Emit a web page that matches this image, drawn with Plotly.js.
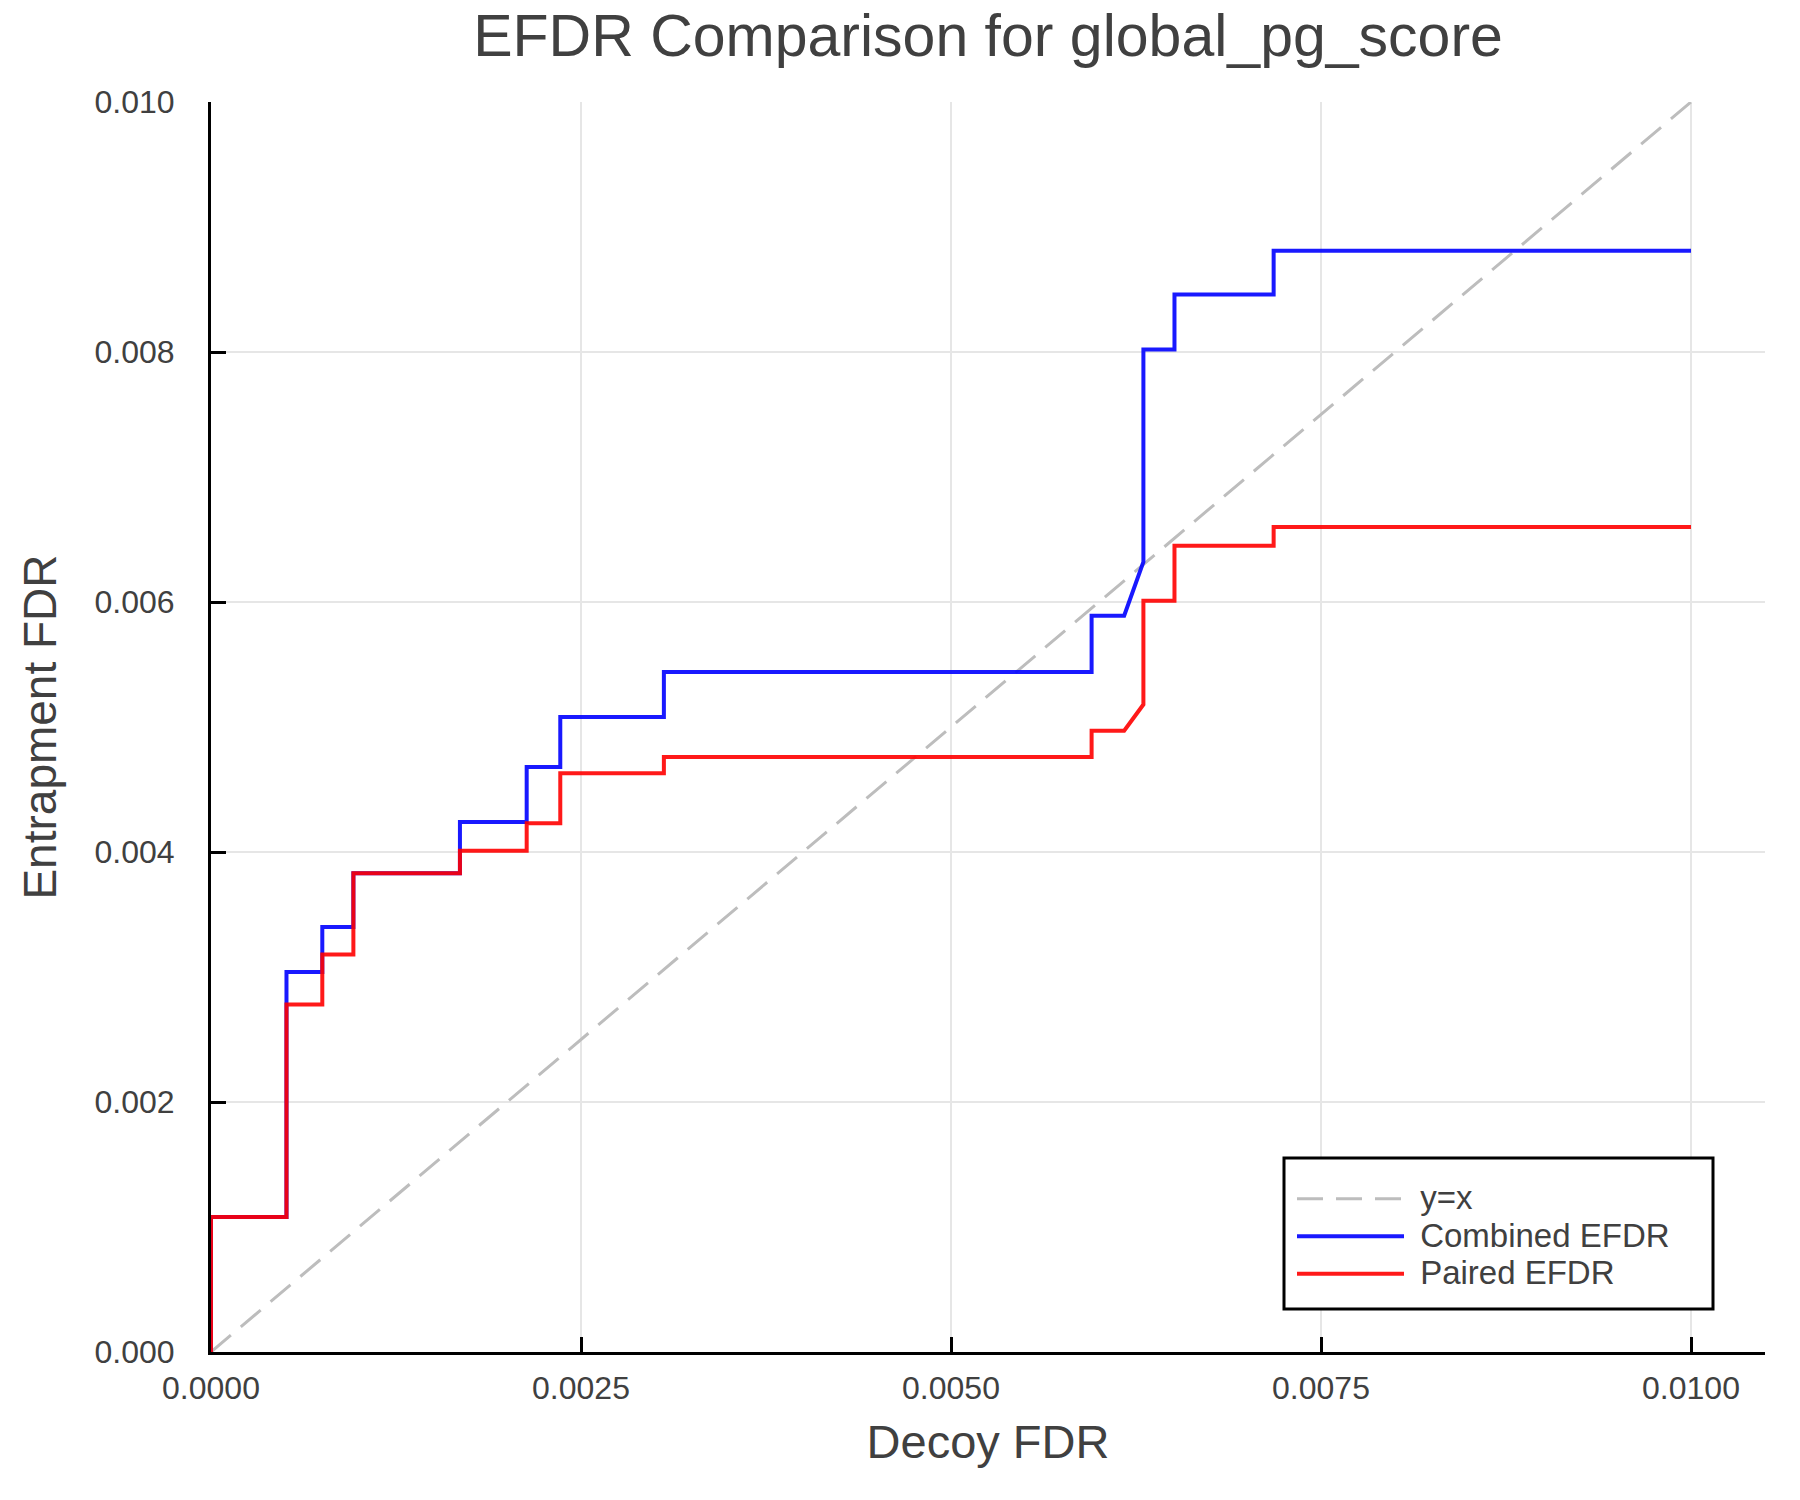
<!DOCTYPE html>
<html>
<head>
<meta charset="utf-8">
<script src="https://cdn.plot.ly/plotly-3.0.1.min.js"></script>
<style>
  html, body { margin: 0; padding: 0; background: #ffffff; }
  #chart { width: 1800px; height: 1500px; }
</style>
</head>
<body>
<div id="chart"></div>
<script>
// Decoy FDR (x) grid shared by both EFDR curves (step points)
const decoyFDR = [0, 0, 0.00051, 0.00051, 0.000752, 0.000752, 0.000962, 0.000962,
  0.001682, 0.001682, 0.002133, 0.002133, 0.00236, 0.00236, 0.00306, 0.00306,
  0.00595, 0.00595, 0.00617, 0.0063, 0.0063, 0.00651, 0.00651, 0.00718, 0.00718, 0.0100];

const combinedEFDR = [0, 0.00108, 0.00108, 0.00304, 0.00304, 0.0034, 0.0034, 0.00383,
  0.00383, 0.00424, 0.00424, 0.00468, 0.00468, 0.00508, 0.00508, 0.00544,
  0.00544, 0.00589, 0.00589, 0.00632, 0.00802, 0.00802, 0.00846, 0.00846, 0.00881, 0.00881];

const pairedEFDR = [0, 0.00108, 0.00108, 0.00278, 0.00278, 0.00318, 0.00318, 0.00383,
  0.00383, 0.00401, 0.00401, 0.00423, 0.00423, 0.00463, 0.00463, 0.00476,
  0.00476, 0.00497, 0.00497, 0.00518, 0.00601, 0.00601, 0.00645, 0.00645, 0.0066, 0.0066];

const diagX = [0, 0.01];
const diagY = [0, 0.01];

const xTickVals = [0, 0.0025, 0.005, 0.0075, 0.01];
const xTickText = ["0.0000", "0.0025", "0.0050", "0.0075", "0.0100"];
const yTickVals = [0, 0.002, 0.004, 0.006, 0.008, 0.01];
const yTickText = ["0.000", "0.002", "0.004", "0.006", "0.008", "0.010"];

const seriesNames = ["y=x", "Combined EFDR", "Paired EFDR"];

const FONT = "Liberation Sans, Arial, Helvetica, sans-serif";
const TEXT = "#404040";
const legendLabel = (s) => '<span style="font-size:40px">&nbsp;</span><span style="font-size:33px">' + s + '</span>';

const traces = [
  { x: diagX, y: diagY, mode: "lines", name: legendLabel(seriesNames[0]),
    line: { color: "#bdbdbd", width: 3, dash: "26px,13px" } },
  { x: decoyFDR, y: combinedEFDR, mode: "lines", name: legendLabel(seriesNames[1]),
    line: { color: "rgba(0,0,255,0.9)", width: 4 } },
  { x: decoyFDR, y: pairedEFDR, mode: "lines", name: legendLabel(seriesNames[2]),
    line: { color: "rgba(255,0,0,0.9)", width: 4 } }
];

const layout = {
  width: 1800, height: 1500,
  paper_bgcolor: "#ffffff", plot_bgcolor: "#ffffff",
  margin: { l: 211, r: 35, t: 102, b: 148, pad: 0 },
  font: { family: FONT, color: TEXT, size: 32 },
  title: { text: "EFDR Comparison for global_pg_score",
    font: { family: FONT, size: 59, color: TEXT },
    x: 0.5, xref: "paper", xanchor: "center",
    y: 1 - 35 / 1500, yref: "container", yanchor: "middle" },
  xaxis: {
    range: [0, 0.0105], tickvals: xTickVals, ticktext: xTickText,
    ticks: "inside", ticklen: 15, tickwidth: 3, tickcolor: "#000000",
    showline: true, linecolor: "#000000", linewidth: 3, mirror: false,
    showgrid: true, gridcolor: "#e6e6e6", gridwidth: 1.5, zeroline: false,
    tickfont: { family: FONT, size: 32, color: TEXT },
    ticklabelstandoff: 6,
    title: { text: "Decoy FDR", font: { family: FONT, size: 47, color: TEXT }, standoff: 20 }
  },
  yaxis: {
    range: [0, 0.01], tickvals: yTickVals, ticktext: yTickText,
    ticks: "inside", ticklen: 15, tickwidth: 3, tickcolor: "#000000",
    showline: true, linecolor: "#000000", linewidth: 3, mirror: false,
    showgrid: true, gridcolor: "#e6e6e6", gridwidth: 1.5, zeroline: false,
    tickfont: { family: FONT, size: 32, color: TEXT },
    ticklabelstandoff: 27,
    title: { text: "Entrapment FDR", font: { family: FONT, size: 46, color: TEXT }, standoff: 24 }
  },
  shapes: [
    { type: "rect", xref: "paper", yref: "paper", layer: "above",
      x0: (1284 - 211) / 1554, x1: (1713 - 211) / 1554,
      y0: (1352 - 1309) / 1250, y1: (1352 - 1158) / 1250,
      fillcolor: "#ffffff", line: { color: "#000000", width: 3 } }
  ],
  showlegend: true,
  legend: {
    x: (1292 - 211) / 1554, xanchor: "left", xref: "paper",
    y: (1352 - 1175) / 1250, yanchor: "top", yref: "paper",
    bgcolor: "rgba(0,0,0,0)", borderwidth: 0,
    font: { family: FONT, size: 26.5, color: TEXT },
    itemwidth: 107, tracegroupgap: 0
  }
};

Plotly.newPlot("chart", traces, layout, { staticPlot: true, displayModeBar: false });
</script>
</body>
</html>
